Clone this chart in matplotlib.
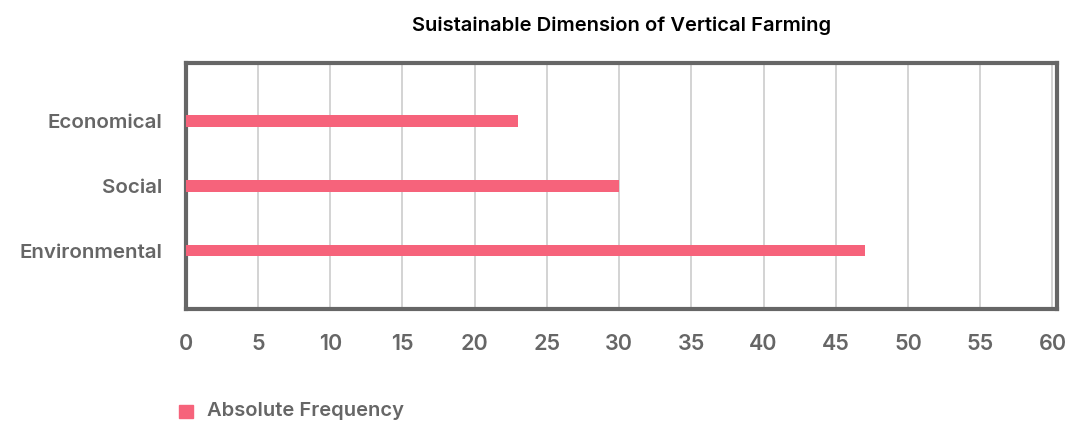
import numpy as np
import matplotlib.pyplot as plt

plt.rcParams['font.family'] = ['Inter', 'DejaVu Sans']

# data
kategorier = ["Environmental", "Social", "Economical"]
verdier = [47, 30, 23]
x_ticks = np.arange(0, 61, 5)

farge = "#f6637b"
tekstfarge = "#666666"

fig = plt.figure(figsize=(10.68, 4.22), dpi=100)
ax = fig.add_axes([0.174, 0.268, 0.8155, 0.583])

y = np.arange(len(kategorier))
ax.barh(y, verdier, height=0.18, color=farge, zorder=3)

ax.set_xlim(0, 60.3)
ax.set_ylim(-0.9, 2.9)
ax.set_xticks(x_ticks)
ax.set_yticks(y)
ax.set_yticklabels(kategorier)

ax.grid(axis="x", color="#cccccc", linewidth=1.2, zorder=0)
ax.grid(axis="y", visible=False)

for s in ax.spines.values():
    s.set_color("#666666")
    s.set_linewidth(3)

ax.tick_params(axis="both", length=0, colors=tekstfarge)
ax.tick_params(axis="x", pad=18, labelsize=15.5)
ax.tick_params(axis="y", pad=17, labelsize=14.8)
for lab in ax.get_xticklabels() + ax.get_yticklabels():
    lab.set_fontweight("semibold")

fig.text(0.582, 0.94, "Suistainable Dimension of Vertical Farming",
         ha="center", va="center", fontsize=14.5, fontweight="semibold", color="black")

# legend
fig.patches.append(plt.Rectangle((0.168, 0.01), 0.013, 0.031, transform=fig.transFigure,
                                 color=farge))
fig.text(0.194, 0.025, "Absolute Frequency", ha="left", va="center",
         fontsize=14.5, fontweight="semibold", color=tekstfarge)

plt.savefig("out.png", dpi=100)
